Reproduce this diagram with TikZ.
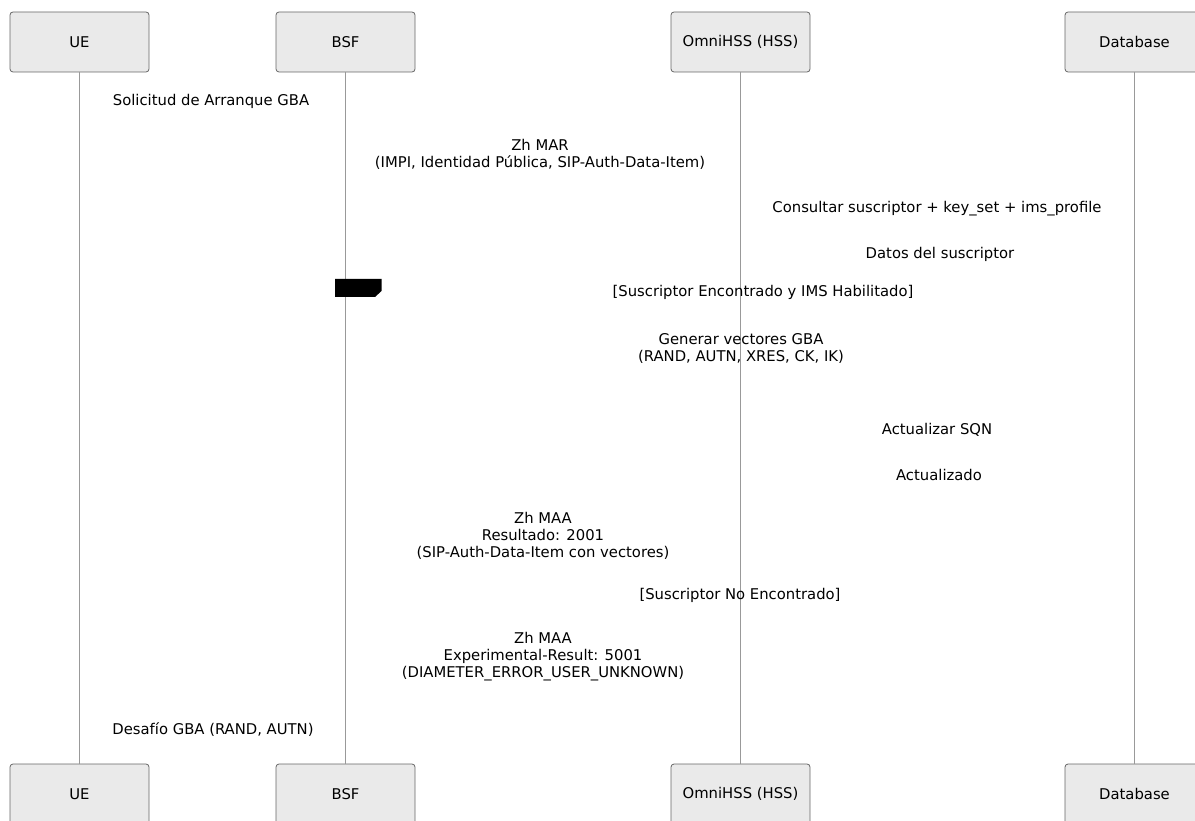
\documentclass[tikz,border=0pt]{standalone}
\usepackage{fontspec}
\setmainfont{DejaVu Sans}
\definecolor{boxfill}{HTML}{EAEAEA}
\definecolor{boxline}{HTML}{666666}
\definecolor{lifeline}{HTML}{999999}
\begin{document}
\begin{tikzpicture}[x=1pt,y=-1pt,
  actor/.style={draw=boxline, fill=boxfill, rounded corners=3pt, minimum width=139pt, minimum height=60pt, inner sep=0pt, font=\fontsize{14.8}{17}\selectfont, line width=0.8pt},
  msg/.style={inner sep=0pt, align=center, font=\fontsize{14.8}{17}\selectfont},
  life/.style={draw=lifeline, line width=0.8pt}]
\useasboundingbox (0,0) rectangle (1195,821);
% actors top
\node[actor] (ueT) at (79.5,42) {UE};
\node[actor] (bsfT) at (345.5,42) {BSF};
\node[actor] (hssT) at (740.5,42) {OmniHSS (HSS)};
\node[actor] (dbT) at (1134.5,42) {Database};
% actors bottom
\node[actor] (ueB) at (79.5,794) {UE};
\node[actor] (bsfB) at (345.5,794) {BSF};
\node[actor] (hssB) at (740.5,794) {OmniHSS (HSS)};
\node[actor] (dbB) at (1134.5,794) {Database};
% lifelines
\draw[life] (ueT.south) -- (ueB.north);
\draw[life] (bsfT.south) -- (bsfB.north);
\draw[life] (hssT.south) -- (hssB.north);
\draw[life] (dbT.south) -- (dbB.north);
% black marker
\fill (335,279) -- (381.5,279) -- (381.5,291) -- (375,297) -- (335,297) -- cycle;
% labels
\node[msg] (m1) at (211,101.5) {Solicitud de Arranque GBA};
\node[msg] (m2) at (540,154.5) {Zh MAR\\(IMPI, Identidad Pública, SIP-Auth-Data-Item)};
\node[msg] (m3) at (937,208.5) {Consultar suscriptor + key\_set + ims\_profile};
\node[msg] (m4) at (940,254.5) {Datos del suscriptor};
\node[msg] (m5) at (763,292.5) {[Suscriptor Encontrado y IMS Habilitado]};
\node[msg] (m6) at (741,348) {Generar vectores GBA\\(RAND, AUTN, XRES, CK, IK)};
\node[msg] (m7) at (937,429.5) {Actualizar SQN};
\node[msg] (m8) at (939,474.5) {Actualizado};
\node[msg] (m9) at (543,535.5) {Zh MAA\\Resultado: 2001\\(SIP-Auth-Data-Item con vectores)};
\node[msg] (m10) at (740,595.5) {[Suscriptor No Encontrado]};
\node[msg] (m11) at (543,657) {Zh MAA\\Experimental-Result: 5001\\(DIAMETER\_ERROR\_USER\_UNKNOWN)};
\node[msg] (m12) at (213,729.5) {Desafío GBA (RAND, AUTN)};
\end{tikzpicture}
\end{document}
